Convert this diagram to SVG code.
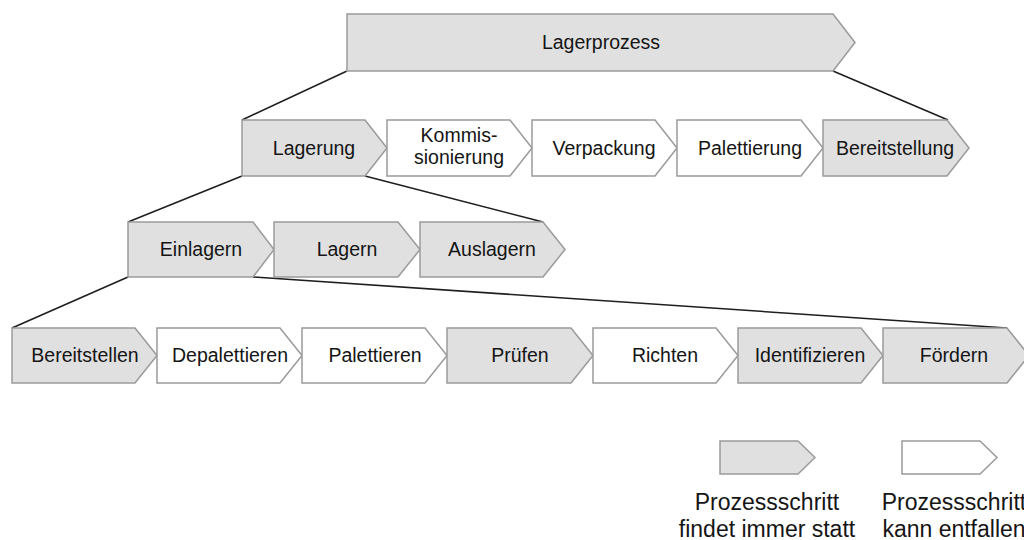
<svg xmlns="http://www.w3.org/2000/svg" width="1024" height="540" viewBox="0 0 1024 540">
<style>
.g{fill:#e0e0e0;stroke:#9a9a9a;stroke-width:1.5;stroke-linejoin:miter}
.w{fill:#ffffff;stroke:#9a9a9a;stroke-width:1.5;stroke-linejoin:miter}
.t{font-family:"Liberation Sans",Arial,sans-serif;font-size:19.5px;fill:#151515;text-anchor:middle}
.l{font-family:"Liberation Sans",Arial,sans-serif;font-size:23px;fill:#151515;text-anchor:middle}
.c{stroke:#1e1e1e;stroke-width:1.6;fill:none}
</style>
<rect width="1024" height="540" fill="#ffffff"/>
<g id="connectors">
<line class="c" x1="347" y1="71" x2="242" y2="120"/>
<line class="c" x1="833" y1="71" x2="948" y2="120"/>
<line class="c" x1="242" y1="176" x2="128" y2="222"/>
<line class="c" x1="365" y1="176" x2="543" y2="222"/>
<line class="c" x1="128" y1="277" x2="12" y2="328"/>
<line class="c" x1="253" y1="277" x2="1007" y2="328"/>
</g>
<g id="lagerprozess"><path class="g" d="M347,14 H833 L855,42.5 L833,71 H347 Z"/><text class="t" x="601" y="49">Lagerprozess</text></g>
<g id="lagerung"><path class="g" d="M242,120 H365 L387,148 L365,176 H242 Z"/><text class="t" x="314" y="155">Lagerung</text></g>
<g id="kommissionierung"><path class="w" d="M387,120 H510 L532,148 L510,176 H387 Z"/><text class="t" x="459" y="142">Kommis-</text><text class="t" x="459" y="164">sionierung</text></g>
<g id="verpackung"><path class="w" d="M532,120 H655 L677,148 L655,176 H532 Z"/><text class="t" x="604" y="155">Verpackung</text></g>
<g id="palettierung"><path class="w" d="M677,120 H801 L823,148 L801,176 H677 Z"/><text class="t" x="750" y="155">Palettierung</text></g>
<g id="bereitstellung"><path class="g" d="M823,120 H947 L969,148 L947,176 H823 Z"/><text class="t" x="895" y="155">Bereitstellung</text></g>
<g id="einlagern"><path class="g" d="M128,222 H253 L274,249.5 L253,277 H128 Z"/><text class="t" x="201" y="256">Einlagern</text></g>
<g id="lagern"><path class="g" d="M274,222 H398 L420,249.5 L398,277 H274 Z"/><text class="t" x="347" y="256">Lagern</text></g>
<g id="auslagern"><path class="g" d="M420,222 H543 L565,249.5 L543,277 H420 Z"/><text class="t" x="492" y="256">Auslagern</text></g>
<g id="bereitstellen"><path class="g" d="M12,328 H135 L157,355.5 L135,383 H12 Z"/><text class="t" x="85" y="362">Bereitstellen</text></g>
<g id="depalettieren"><path class="w" d="M157,328 H280 L302,355.5 L280,383 H157 Z"/><text class="t" x="230" y="362">Depalettieren</text></g>
<g id="palettieren"><path class="w" d="M302,328 H425 L447,355.5 L425,383 H302 Z"/><text class="t" x="375" y="362">Palettieren</text></g>
<g id="pruefen"><path class="g" d="M447,328 H571 L593,355.5 L571,383 H447 Z"/><text class="t" x="520" y="362">Prüfen</text></g>
<g id="richten"><path class="w" d="M593,328 H716 L738,355.5 L716,383 H593 Z"/><text class="t" x="665" y="362">Richten</text></g>
<g id="identifizieren"><path class="g" d="M738,328 H861 L883,355.5 L861,383 H738 Z"/><text class="t" x="810" y="362">Identifizieren</text></g>
<g id="foerdern"><path class="g" d="M883,328 H1007 L1029,355.5 L1007,383 H883 Z"/><text class="t" x="954" y="362">Fördern</text></g>
<g id="legend-immer"><path class="g" d="M720,441 H798 L815,457.5 L798,474 H720 Z"/><text class="l" x="767" y="510">Prozessschritt</text><text class="l" x="767" y="537">findet immer statt</text></g>
<g id="legend-entfallen"><path class="w" d="M902,441 H980 L997,457.5 L980,474 H902 Z"/><text class="l" x="954" y="510">Prozessschritt</text><text class="l" x="954" y="537">kann entfallen</text></g>
</svg>
